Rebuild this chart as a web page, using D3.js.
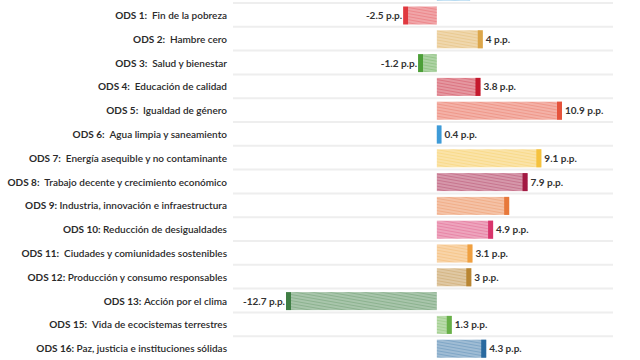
<!DOCTYPE html>
<html><head><meta charset="utf-8">
<script src="https://cdn.jsdelivr.net/npm/d3@7"></script>
<style>body{margin:0;background:#fff}svg{display:block}</style>
</head><body>
<script>
const codes = ["", "ODS 1:\u00a0\u00a0", "ODS 2:\u00a0\u00a0", "ODS 3:\u00a0\u00a0", "ODS 4:\u00a0\u00a0", "ODS 5:\u00a0\u00a0", "ODS 6:\u00a0\u00a0", "ODS 7:\u00a0\u00a0", "ODS 8:\u00a0\u00a0", "ODS 9:\u00a0", "ODS 10:\u00a0", "ODS 11:\u00a0\u00a0", "ODS 12:\u00a0", "ODS 13:\u00a0", "ODS 15:\u00a0\u00a0", "ODS 16:\u00a0"];
const names = ["", "Fin de la pobreza", "Hambre cero", "Salud y bienestar", "Educación de calidad", "Igualdad de género", "Agua limpia y saneamiento", "Energía asequible y no contaminante", "Trabajo decente y crecimiento económico", "Industria, innovación e infraestructura", "Reducción de desigualdades", "Ciudades y comiunidades sostenibles", "Producción y consumo responsables", "Acción por el clima", "Vida de ecocistemas terrestres", "Paz, justicia e instituciones sólidas"];
const values = [2.9, -2.5, 4, -1.2, 3.8, 10.9, 0.4, 9.1, 7.9, 6.3, 4.9, 3.1, 3, -12.7, 1.3, 4.3];
const valueLabels = ["", "-2.5 p.p.", "4 p.p.", "-1.2 p.p.", "3.8 p.p.", "10.9 p.p.", "0.4 p.p.", "9.1 p.p.", "7.9 p.p.", "", "4.9 p.p.", "3.1 p.p.", "3 p.p.", "-12.7 p.p.", "1.3 p.p.", "4.3 p.p."];
const colors = ["#4ea6de", "#e0383f", "#dca64a", "#4c9f38", "#c5192d", "#e5533c", "#3e9bd8", "#f5c23e", "#a21942", "#e7783a", "#d8356c", "#f0a040", "#b98633", "#3f7e44", "#68b048", "#2a6aa0"];

const W = 640, H = 360;
const svg = d3.select("body").append("svg").attr("width", W).attr("height", H);
const defs = svg.append("defs");

const idx = d3.range(values.length);
const pitch = 23.8;
const y = d3.scaleBand().domain(idx).range([3 - pitch, 3 + 15 * pitch]).padding(0);
const x = d3.scaleLinear().domain([-12.7, 10.9]).range([291, 562]);
const x0 = x(0);
const capW = 5;

idx.forEach(i => {
  const p = defs.append("pattern").attr("id", "hatch" + i).attr("patternUnits", "userSpaceOnUse")
    .attr("width", 10).attr("height", 3).attr("patternTransform", "rotate(10)");
  p.append("rect").attr("width", 10).attr("height", 3).attr("fill", colors[i]).attr("fill-opacity", 0.6);
  p.append("line").attr("x1", 0).attr("x2", 10).attr("y1", 1).attr("y2", 1)
    .attr("stroke", "#fff").attr("stroke-opacity", 0.5).attr("stroke-width", 1);
});

svg.append("g").selectAll("line").data(idx.slice(1)).join("line")
  .attr("x1", 233).attr("x2", 613)
  .attr("y1", d => y(d)).attr("y2", d => y(d))
  .attr("stroke", "#eeeeee").attr("stroke-width", 2);

const bh = 18, boff = 3.5;
const rows = svg.append("g").selectAll("g").data(idx).join("g");

rows.append("rect")
  .attr("x", d => Math.min(x(values[d]), x0))
  .attr("width", d => Math.abs(x(values[d]) - x0))
  .attr("y", d => y(d) + boff).attr("height", bh)
  .attr("fill", d => `url(#hatch${d})`);

// solid end caps: inside the bar end for positives, just outside for negatives
const capX = d => values[d] >= 0 ? x(values[d]) - Math.min(capW, x(values[d]) - x0) : x(values[d]) - capW;
rows.append("rect")
  .attr("x", capX)
  .attr("width", d => values[d] >= 0 ? Math.min(capW, x(values[d]) - x0) : capW)
  .attr("y", d => y(d) + boff).attr("height", bh)
  .attr("fill", d => colors[d])
  .attr("display", d => d === 0 ? "none" : null);

rows.append("text")
  .attr("x", d => values[d] >= 0 ? x(values[d]) + 3 : capX(d) - 1)
  .attr("y", d => y(d) + boff + bh / 2 + 3.5)
  .attr("text-anchor", d => values[d] >= 0 ? "start" : "end")
  .attr("font-family", "Lato, sans-serif").attr("font-size", 10).attr("font-weight", 700)
  .attr("fill", "#333")
  .text(d => valueLabels[d]);

const lab = rows.filter(d => d > 0).append("text")
  .attr("x", 227)
  .attr("y", d => y(d) + boff + bh / 2 + 3.5)
  .attr("text-anchor", "end")
  .attr("font-family", "Lato, sans-serif").attr("font-size", 10)
  .attr("fill", "#2a2a2a");
lab.append("tspan").attr("font-weight", 700).text(d => codes[d]);
lab.append("tspan").attr("font-weight", 600).text(d => names[d]);
</script>
</body></html>
